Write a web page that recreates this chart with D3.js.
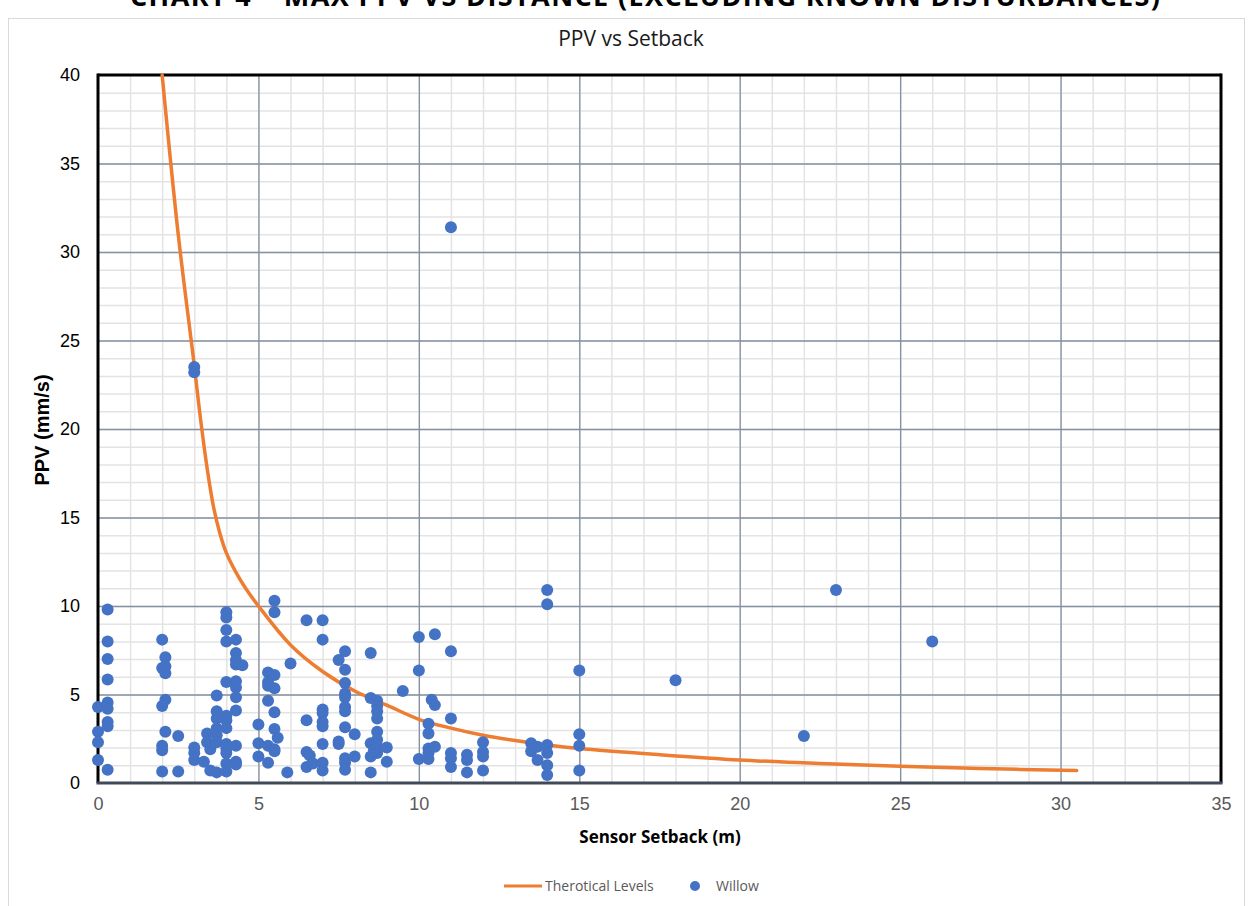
<!DOCTYPE html>
<html lang="en">
<head>
<meta charset="UTF-8">
<title>PPV vs Setback</title>
<script src="https://d3js.org/d3.v7.min.js"></script>
<style>
  body { margin: 0; background: #fff; }
  svg { display: block; }
</style>
</head>
<body>
<div id="chart"></div>
<script>

// willow readings: sensor setback (m) and peak particle velocity (mm/s)
const willowX = [
  0, 0, 0, 0,
  0.3, 0.3, 0.3, 0.3, 0.3, 0.3, 0.3, 0.3, 0.3,
  2, 2, 2, 2, 2, 2,
  2.1, 2.1, 2.1, 2.1, 2.1,
  2.5, 2.5,
  3, 3, 3, 3, 3,
  3.3, 3.4, 3.4, 3.5, 3.5,
  3.7, 3.7, 3.7, 3.7, 3.7, 3.7, 3.7,
  4, 4, 4, 4, 4, 4, 4, 4, 4, 4, 4, 4, 4,
  4.3, 4.3, 4.3, 4.3, 4.3, 4.3, 4.3, 4.3, 4.3, 4.3, 4.3,
  4.5,
  5, 5, 5,
  5.3, 5.3, 5.3, 5.3, 5.3, 5.3,
  5.5, 5.5, 5.5, 5.5, 5.5, 5.5, 5.5, 5.5,
  5.6, 5.9, 6,
  6.5, 6.5, 6.5, 6.5, 6.6, 6.7,
  7, 7, 7, 7, 7, 7, 7, 7, 7,
  7.5, 7.5, 7.5,
  7.7, 7.7, 7.7, 7.7, 7.7, 7.7, 7.7, 7.7, 7.7, 7.7, 7.7,
  8, 8,
  8.5, 8.5, 8.5, 8.5, 8.5,
  8.7, 8.7, 8.7, 8.7, 8.7, 8.7, 8.7, 8.7, 8.6,
  9, 9, 9.5,
  10, 10, 10,
  10.3, 10.3, 10.3, 10.3, 10.3, 10.4,
  10.5, 10.5, 10.5,
  11, 11, 11, 11, 11, 11,
  11.5, 11.5, 11.5,
  12, 12, 12, 12,
  13.5, 13.5, 13.7, 13.7,
  14, 14, 14, 14, 14, 14,
  15, 15, 15, 15,
  18, 22, 23, 26
];
const willowY = [
  4.3, 2.9, 2.3, 1.3,
  9.8, 8.0, 7.0, 5.85, 4.55, 4.2, 3.45, 3.2, 0.75,
  8.1, 6.5, 4.35, 2.1, 1.85, 0.65,
  7.1, 6.6, 6.2, 4.7, 2.9,
  2.65, 0.65,
  23.5, 23.2, 2.0, 1.7, 1.3,
  1.2, 2.8, 2.3, 1.9, 0.7,
  4.95, 4.05, 3.65, 3.1, 2.7, 2.3, 0.6,
  9.65, 9.35, 8.65, 8.0, 5.7, 3.8, 3.55, 3.1, 2.2, 1.95, 1.7, 1.1, 0.65,
  8.1, 7.35, 6.95, 6.7, 5.75, 5.4, 4.85, 4.1, 2.1, 1.2, 1.05,
  6.65,
  3.3, 2.25, 1.5,
  6.25, 5.7, 5.5, 4.65, 2.1, 1.15,
  10.3, 9.65, 6.1, 5.35, 4.0, 3.05, 1.9, 1.8,
  2.55, 0.6, 6.75,
  9.2, 3.55, 1.75, 0.9, 1.55, 1.1,
  9.2, 8.1, 4.15, 3.95, 3.45, 3.2, 2.2, 1.15, 0.7,
  6.95, 2.35, 2.2,
  7.45, 6.4, 5.65, 5.05, 4.85, 4.3, 4.05, 3.15, 1.4, 1.15, 0.75,
  2.75, 1.5,
  7.35, 4.8, 2.25, 1.5, 0.6,
  4.65, 4.35, 4.05, 3.65, 2.9, 2.45, 2.05, 1.7, 1.85,
  2.0, 1.2, 5.2,
  8.25, 6.35, 1.35,
  3.35, 2.8, 1.95, 1.7, 1.35, 4.7,
  8.4, 4.4, 2.05,
  31.4, 7.45, 3.65, 1.7, 1.4, 0.9,
  1.6, 1.3, 0.6,
  2.3, 1.75, 1.5, 0.7,
  2.25, 1.8, 2.05, 1.3,
  10.9, 10.1, 2.15, 1.7, 1.0, 0.45,
  6.35, 2.75, 2.1, 0.7,
  5.8, 2.65, 10.9, 8.0
];

// theoretical levels curve
const theoryX = [2, 2.5, 3, 3.2, 3.4, 3.6, 3.8, 4.0, 4.3, 4.6, 5, 6, 7, 8, 9, 10, 11, 12, 13, 14, 15, 17.5, 20, 22.5, 25, 27.5, 30.5];
const theoryY = [40, 31, 23.6, 20.5, 17.8, 15.6, 14.1, 13.0, 11.9, 11.0, 10, 7.8, 6.3, 5.2, 4.4, 3.6, 3.1, 2.7, 2.4, 2.15, 1.95, 1.6, 1.3, 1.1, 0.95, 0.82, 0.7];

const xMajor = [0, 5, 10, 15, 20, 25, 30, 35];
const yMajor = [0, 5, 10, 15, 20, 25, 30, 35, 40];

const W = 1250, H = 906;
const plotL = 98, plotR = 1221, plotT = 75, plotB = 783;

const svg = d3.select("#chart").append("svg")
    .attr("width", W)
    .attr("height", H);

// report heading, partly above the page edge as in the source
svg.append("text")
    .attr("x", 645).attr("y", 6)
    .attr("text-anchor", "middle")
    .attr("font-family", "Open Sans, sans-serif")
    .attr("font-weight", "bold")
    .attr("font-size", 27)
    .attr("textLength", 1030)
    .text("CHART 4 – MAX PPV VS DISTANCE (EXCLUDING KNOWN DISTURBANCES)");

// chart area border
svg.append("rect")
    .attr("x", 8.5).attr("y", 18.5)
    .attr("width", 1236).attr("height", 900)
    .attr("fill", "#fff")
    .attr("stroke", "#d9d9d9");

svg.append("text")
    .attr("x", 631).attr("y", 46)
    .attr("text-anchor", "middle")
    .attr("font-family", "Open Sans, sans-serif")
    .attr("font-size", 21)
    .attr("fill", "#1a1a1a")
    .text("PPV vs Setback");

const x = d3.scaleLinear().domain([0, 35]).range([plotL, plotR]);
const y = d3.scaleLinear().domain([0, 40]).range([plotB, plotT]);

// minor grid
const g = svg.append("g");
g.append("g")
    .attr("transform", `translate(0,${plotB})`)
    .call(d3.axisBottom(x).tickValues(d3.range(1, 35)).tickSize(-(plotB - plotT)).tickFormat(""))
    .call(a => a.select(".domain").remove())
    .call(a => a.selectAll("line").attr("stroke", "#e3e3e3").attr("stroke-width", 1.5));
g.append("g")
    .attr("transform", `translate(${plotL},0)`)
    .call(d3.axisLeft(y).tickValues(d3.range(1, 40)).tickSize(-(plotR - plotL)).tickFormat(""))
    .call(a => a.select(".domain").remove())
    .call(a => a.selectAll("line").attr("stroke", "#e3e3e3").attr("stroke-width", 1.5));

// major grid
g.append("g")
    .attr("transform", `translate(0,${plotB})`)
    .call(d3.axisBottom(x).tickValues(xMajor.slice(1, -1)).tickSize(-(plotB - plotT)).tickFormat(""))
    .call(a => a.select(".domain").remove())
    .call(a => a.selectAll("line").attr("stroke", "#8590a2").attr("stroke-width", 1.3));
g.append("g")
    .attr("transform", `translate(${plotL},0)`)
    .call(d3.axisLeft(y).tickValues(yMajor.slice(1, -1)).tickSize(-(plotR - plotL)).tickFormat(""))
    .call(a => a.select(".domain").remove())
    .call(a => a.selectAll("line").attr("stroke", "#8590a2").attr("stroke-width", 1.3));

// frame
svg.append("line").attr("x1", plotL).attr("x2", plotR).attr("y1", plotT).attr("y2", plotT)
    .attr("stroke", "#000").attr("stroke-width", 3);
svg.append("line").attr("x1", plotR).attr("x2", plotR).attr("y1", plotT - 1.5).attr("y2", plotB)
    .attr("stroke", "#000").attr("stroke-width", 3);
svg.append("line").attr("x1", plotL).attr("x2", plotL).attr("y1", plotT - 1.5).attr("y2", plotB)
    .attr("stroke", "#000").attr("stroke-width", 3);
svg.append("line").attr("x1", plotL - 1.5).attr("x2", plotR + 1.5).attr("y1", plotB).attr("y2", plotB)
    .attr("stroke", "#414a58").attr("stroke-width", 3);

// axis labels
svg.append("g")
    .attr("transform", `translate(0,${plotB})`)
    .call(d3.axisBottom(x).tickValues(xMajor).tickSize(0).tickPadding(14))
    .call(a => a.select(".domain").remove())
    .call(a => a.selectAll("text")
        .attr("font-family", "Liberation Sans, Arial, sans-serif")
        .attr("font-size", 18)
        .attr("fill", "#595959"));
svg.append("g")
    .attr("transform", `translate(${plotL},0)`)
    .call(d3.axisLeft(y).tickValues(yMajor).tickSize(0).tickPadding(18))
    .call(a => a.select(".domain").remove())
    .call(a => a.selectAll("text")
        .attr("font-family", "Liberation Sans, Arial, sans-serif")
        .attr("font-size", 18)
        .attr("fill", "#000"));

svg.append("text")
    .attr("transform", "translate(49,430) rotate(-90)")
    .attr("text-anchor", "middle")
    .attr("font-family", "Liberation Sans, Arial, sans-serif")
    .attr("font-weight", "bold")
    .attr("font-size", 20)
    .text("PPV (mm/s)");

svg.append("text")
    .attr("x", 660).attr("y", 843)
    .attr("text-anchor", "middle")
    .attr("font-family", "Open Sans, sans-serif")
    .attr("font-weight", "bold")
    .attr("font-size", 17)
    .text("Sensor Setback (m)");

// theoretical curve
const theory = d3.zip(theoryX, theoryY);
const line = d3.line()
    .x(d => x(d[0]))
    .y(d => y(d[1]))
    .curve(d3.curveCatmullRom.alpha(0.5));

svg.append("path")
    .datum(theory)
    .attr("fill", "none")
    .attr("stroke", "#ed7d31")
    .attr("stroke-width", 3.5)
    .attr("stroke-linecap", "round")
    .attr("d", line);

// willow points
svg.append("g")
    .selectAll("circle")
    .data(d3.zip(willowX, willowY))
    .join("circle")
    .attr("cx", d => x(d[0]))
    .attr("cy", d => y(d[1]))
    .attr("r", 6)
    .attr("fill", "#4472c4");

// legend
const legend = svg.append("g")
    .attr("font-family", "Open Sans, sans-serif")
    .attr("font-size", 14)
    .attr("fill", "#595959");
legend.append("line")
    .attr("x1", 504).attr("x2", 542).attr("y1", 886).attr("y2", 886)
    .attr("stroke", "#ed7d31").attr("stroke-width", 3);
legend.append("text").attr("x", 545).attr("y", 891).text("Therotical Levels");
legend.append("circle").attr("cx", 695).attr("cy", 886).attr("r", 5).attr("fill", "#4472c4");
legend.append("text").attr("x", 716).attr("y", 891).text("Willow");

</script>
</body>
</html>
